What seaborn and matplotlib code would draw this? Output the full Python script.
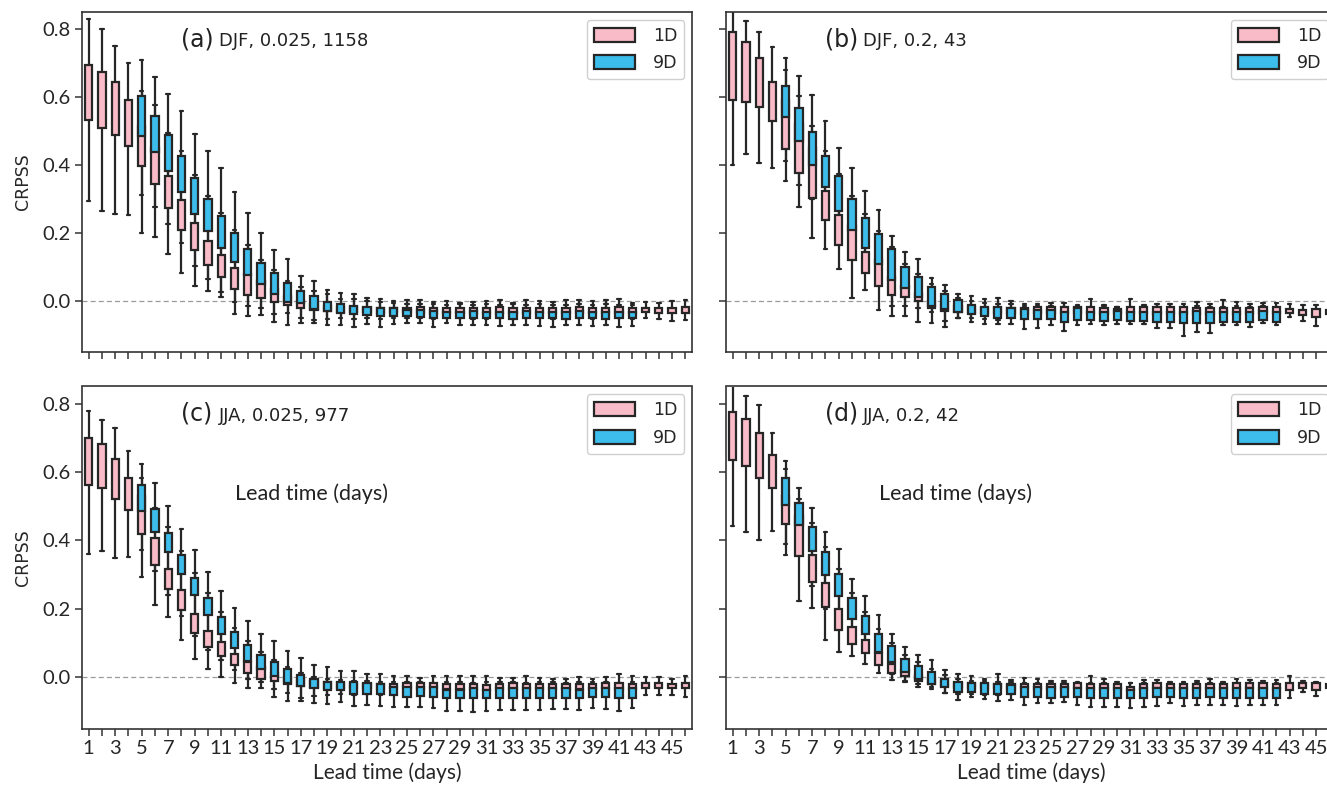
import numpy as np
import pandas as pd
import matplotlib
matplotlib.use("Agg")
import matplotlib.pyplot as plt
import seaborn as sns

# ---------------- data ----------------
LEADS = list(range(1, 47))
LEADS_9D = list(range(5, 43))
MODELS = ["1D", "9D"]
COLORS = {"1D": "#F8BBC7", "9D": "#3CBDEC"}
YTICKS = [0.0, 0.2, 0.4, 0.6, 0.8]
PANEL_TAGS = ["(a)", "(b)", "(c)", "(d)"]
PANEL_INFO = ["DJF, 0.025, 1158", "DJF, 0.2, 43", "JJA, 0.025, 977", "JJA, 0.2, 42"]

# Panel (a) 1D : whisker high, box top, box bottom, whisker low
A1_hi = [0.83, 0.80, 0.75, 0.70, 0.71, 0.66, 0.61, 0.56, 0.49, 0.44, 0.39, 0.32, 0.26, 0.20, 0.15, 0.125, 0.073, 0.06, 0.032,
         0.025, 0.02, 0.01, 0.006, 0.0, 0.003, 0.003, -0.002, 0.0, -0.007, -0.002, 0.0, 0.003, -0.005, 0.002, 0.0, -0.004, 0.002,
         0.002, 0.0, 0.003, 0.005, -0.005, -0.002, -0.005, 0.0, 0.003]
A1_q3 = [0.694, 0.674, 0.645, 0.592, 0.515, 0.45, 0.369, 0.296, 0.228, 0.176, 0.136, 0.098, 0.08, 0.058, 0.035, 0.015, 0.0, -0.01, -0.015,
         -0.018, -0.019, -0.02, -0.02, -0.02, -0.02, -0.018, -0.021, -0.02, -0.022, -0.02, -0.021, -0.019, -0.022, -0.02, -0.021, -0.022,
         -0.02, -0.019, -0.021, -0.02, -0.019, -0.021, -0.020, -0.021, -0.022, -0.019]
A1_q1 = [0.533, 0.508, 0.487, 0.456, 0.396, 0.344, 0.274, 0.208, 0.151, 0.107, 0.072, 0.034, 0.018, 0.008, -0.002, -0.012, -0.021, -0.025, -0.028,
         -0.031, -0.032, -0.033, -0.034, -0.033, -0.033, -0.034, -0.035, -0.034, -0.035, -0.034, -0.035, -0.034, -0.035, -0.034, -0.035,
         -0.035, -0.034, -0.034, -0.035, -0.034, -0.034, -0.035, -0.033, -0.034, -0.036, -0.035]
A1_lo = [0.295, 0.265, 0.256, 0.252, 0.200, 0.188, 0.137, 0.083, 0.044, 0.030, 0.013, -0.039, -0.043, -0.041, -0.063, -0.070, -0.065, -0.055, -0.052,
         -0.051, -0.054, -0.050, -0.052, -0.050, -0.049, -0.050, -0.052, -0.049, -0.051, -0.052, -0.053, -0.050, -0.052, -0.051, -0.050,
         -0.053, -0.052, -0.050, -0.052, -0.051, -0.050, -0.052, -0.051, -0.054, -0.060, -0.056]
# Panel (a) 9D (leads 5-42)
A9_hi = [0.618, 0.577, 0.493, 0.44, 0.37, 0.31, 0.26, 0.21, 0.165, 0.12, 0.09, 0.06, 0.04, 0.03, 0.02, 0.006, 0.005, 0.0, -0.003, -0.005,
         -0.008, -0.01, -0.01, -0.012, -0.01, -0.012, -0.01, -0.012, -0.01, -0.012, -0.01, -0.012, -0.011, -0.01, -0.012, -0.01, -0.011, -0.012]
A9_q3 = [0.603, 0.545, 0.488, 0.426, 0.361, 0.301, 0.249, 0.200, 0.154, 0.112, 0.081, 0.052, 0.029, 0.015, -0.002, -0.010, -0.015, -0.017, -0.020, -0.020,
         -0.026, -0.027, -0.029, -0.031, -0.031, -0.030, -0.031, -0.032, -0.031, -0.030, -0.031, -0.032, -0.031, -0.030, -0.031, -0.032, -0.031, -0.031]
A9_q1 = [0.486, 0.4375, 0.381, 0.322, 0.257, 0.205, 0.157, 0.115, 0.076, 0.049, 0.022, -0.002, -0.007, -0.024, -0.029, -0.036, -0.039, -0.041, -0.044, -0.043,
         -0.044, -0.046, -0.049, -0.049, -0.051, -0.050, -0.051, -0.050, -0.052, -0.051, -0.050, -0.051, -0.052, -0.050, -0.051, -0.052, -0.050, -0.051]
A9_lo = [0.313, 0.276, 0.226, 0.171, 0.103, 0.065, 0.026, -0.002, -0.015, -0.02, -0.039, -0.036, -0.05, -0.065, -0.07, -0.072, -0.075, -0.068, -0.075, -0.068,
         -0.065, -0.065, -0.075, -0.065, -0.070, -0.072, -0.070, -0.074, -0.072, -0.070, -0.073, -0.075, -0.072, -0.070, -0.074, -0.072, -0.075, -0.073]

# Panel (b)
B1_hi = [0.88, 0.823, 0.791, 0.747, 0.716, 0.662, 0.606, 0.530, 0.449, 0.391, 0.323, 0.267, 0.190, 0.143, 0.123, 0.068, 0.047, 0.022, 0.015,
         0.005, 0.01, 0.001, -0.01, -0.01, -0.005, -0.005, -0.012, 0.005, -0.012, -0.017, 0.005, -0.012, -0.009, -0.009, -0.01, -0.002,
         -0.009, 0.003, -0.004, -0.009, -0.007, -0.007, -0.01, -0.012, -0.012, -0.01]
B1_q3 = [0.792, 0.762, 0.716, 0.643, 0.59, 0.52, 0.45, 0.325, 0.254, 0.22, 0.143, 0.12, 0.07, 0.045, 0.02, 0.0, -0.01, -0.015, -0.018,
         -0.02, -0.02, -0.02, -0.022, -0.019, -0.017, -0.017, -0.017, -0.017, -0.021, -0.023, -0.017, -0.017, -0.019, -0.019, -0.019, -0.021,
         -0.021, -0.021, -0.021, -0.021, -0.017, -0.017, -0.024, -0.026, -0.024, -0.026]
B1_q1 = [0.591, 0.586, 0.571, 0.530, 0.447, 0.377, 0.303, 0.237, 0.164, 0.120, 0.081, 0.044, 0.018, 0.011, 0.0, -0.02, -0.028, -0.033, -0.035,
         -0.036, -0.035, -0.036, -0.037, -0.036, -0.035, -0.036, -0.035, -0.036, -0.037, -0.036, -0.035, -0.036, -0.037, -0.036, -0.038,
         -0.037, -0.038, -0.036, -0.037, -0.036, -0.035, -0.036, -0.036, -0.041, -0.046, -0.039]
B1_lo = [0.400, 0.433, 0.406, 0.391, 0.354, 0.276, 0.184, 0.152, 0.093, 0.010, 0.032, -0.026, -0.043, -0.043, -0.061, -0.065, -0.06, -0.05, -0.05,
         -0.052, -0.055, -0.05, -0.053, -0.052, -0.05, -0.054, -0.052, -0.05, -0.053, -0.052, -0.054, -0.052, -0.055, -0.053, -0.056,
         -0.054, -0.055, -0.052, -0.053, -0.054, -0.051, -0.053, -0.048, -0.06, -0.073, -0.055]
B9_hi = [0.680, 0.602, 0.514, 0.44, 0.375, 0.31, 0.255, 0.205, 0.16, 0.11, 0.08, 0.05, 0.03, 0.01, 0.0, -0.005, -0.008, -0.01, -0.015, -0.015,
         -0.016, -0.018, -0.015, -0.018, -0.016, -0.018, -0.017, -0.016, -0.018, -0.017, -0.018, -0.016, -0.017, -0.018, -0.016, -0.017, -0.016, -0.018]
B9_q3 = [0.631, 0.569, 0.498, 0.427, 0.367, 0.301, 0.245, 0.198, 0.152, 0.101, 0.071, 0.042, 0.020, 0.003, -0.012, -0.017, -0.019, -0.022, -0.024, -0.027,
         -0.027, -0.031, -0.022, -0.031, -0.031, -0.030, -0.031, -0.031, -0.032, -0.031, -0.031, -0.030, -0.031, -0.031, -0.032, -0.031, -0.030, -0.031]
B9_q1 = [0.540, 0.472, 0.400, 0.335, 0.264, 0.208, 0.157, 0.110, 0.063, 0.039, 0.013, -0.015, -0.023, -0.031, -0.039, -0.044, -0.051, -0.051, -0.054, -0.054,
         -0.054, -0.061, -0.056, -0.056, -0.059, -0.056, -0.059, -0.059, -0.061, -0.061, -0.066, -0.066, -0.066, -0.061, -0.061, -0.061, -0.056, -0.061]
B9_lo = [0.413, 0.342, 0.30, 0.25, 0.20, 0.15, 0.10, 0.06, -0.015, -0.015, -0.021, -0.033, -0.075, -0.05, -0.061, -0.068, -0.068, -0.068, -0.083, -0.078,
         -0.07, -0.088, -0.07, -0.068, -0.07, -0.068, -0.068, -0.068, -0.078, -0.078, -0.103, -0.09, -0.095, -0.07, -0.07, -0.075, -0.065, -0.07]

# Panel (c)
C1_hi = [0.778, 0.752, 0.729, 0.661, 0.622, 0.568, 0.500, 0.434, 0.373, 0.308, 0.252, 0.203, 0.163, 0.126, 0.106, 0.076, 0.057, 0.037, 0.03,
         0.018, 0.018, 0.009, 0.009, 0.003, 0.003, -0.002, 0.003, 0.003, 0.003, 0.003, 0.003, -0.002, -0.002, 0.004, -0.001, -0.004,
         -0.004, 0.001, -0.004, 0.001, 0.008, 0.003, 0.001, 0.001, -0.004, 0.004]
C1_q3 = [0.700, 0.682, 0.638, 0.582, 0.53, 0.407, 0.315, 0.254, 0.186, 0.134, 0.103, 0.069, 0.043, 0.03, 0.012, 0.0, -0.008, -0.012, -0.015,
         -0.018, -0.02, -0.02, -0.02, -0.021, -0.018, -0.018, -0.018, -0.021, -0.021, -0.021, -0.023, -0.021, -0.018, -0.021, -0.021,
         -0.021, -0.021, -0.021, -0.021, -0.018, -0.018, -0.021, -0.018, -0.018, -0.021, -0.018]
C1_q1 = [0.563, 0.554, 0.522, 0.490, 0.418, 0.327, 0.259, 0.196, 0.130, 0.089, 0.061, 0.035, 0.013, -0.004, -0.012, -0.02, -0.025, -0.028, -0.031,
         -0.032, -0.033, -0.033, -0.034, -0.033, -0.033, -0.034, -0.033, -0.035, -0.035, -0.034, -0.036, -0.035, -0.034, -0.035, -0.034,
         -0.035, -0.034, -0.035, -0.034, -0.033, -0.034, -0.034, -0.031, -0.031, -0.033, -0.033]
C1_lo = [0.361, 0.368, 0.349, 0.351, 0.293, 0.212, 0.176, 0.110, 0.054, 0.025, 0.001, -0.018, -0.033, -0.033, -0.057, -0.069, -0.06, -0.055, -0.052,
         -0.05, -0.052, -0.05, -0.051, -0.05, -0.052, -0.05, -0.053, -0.052, -0.051, -0.053, -0.052, -0.05, -0.052, -0.051, -0.05,
         -0.052, -0.051, -0.053, -0.05, -0.052, -0.053, -0.051, -0.053, -0.051, -0.053, -0.057]
C9_hi = [0.582, 0.494, 0.44, 0.37, 0.305, 0.245, 0.19, 0.145, 0.105, 0.075, 0.05, 0.03, 0.012, 0.0, -0.005, -0.008, -0.01, -0.012, -0.014, -0.015,
         -0.015, -0.014, -0.016, -0.015, -0.014, -0.016, -0.015, -0.014, -0.015, -0.016, -0.015, -0.014, -0.016, -0.015, -0.014, -0.015, -0.016, -0.015]
C9_q3 = [0.561, 0.492, 0.422, 0.356, 0.291, 0.233, 0.176, 0.132, 0.095, 0.064, 0.043, 0.024, 0.006, -0.004, -0.014, -0.014, -0.014, -0.016, -0.019, -0.028,
         -0.030, -0.030, -0.030, -0.036, -0.036, -0.033, -0.038, -0.033, -0.033, -0.033, -0.033, -0.033, -0.033, -0.036, -0.031, -0.033, -0.033, -0.033]
C9_q1 = [0.485, 0.424, 0.366, 0.303, 0.239, 0.181, 0.126, 0.084, 0.047, 0.025, 0.004, -0.018, -0.025, -0.033, -0.038, -0.038, -0.048, -0.048, -0.048, -0.052,
         -0.057, -0.055, -0.057, -0.062, -0.062, -0.062, -0.062, -0.060, -0.060, -0.062, -0.060, -0.060, -0.060, -0.062, -0.057, -0.057, -0.062, -0.060]
C9_lo = [0.373, 0.31, 0.24, 0.18, 0.12, 0.08, 0.05, 0.02, -0.005, -0.015, -0.035, -0.045, -0.07, -0.075, -0.077, -0.072, -0.084, -0.08, -0.084, -0.087,
         -0.087, -0.087, -0.09, -0.099, -0.099, -0.101, -0.099, -0.096, -0.096, -0.096, -0.096, -0.093, -0.093, -0.096, -0.091, -0.093, -0.099, -0.091]

# Panel (d)
D1_hi = [0.87, 0.821, 0.797, 0.713, 0.632, 0.553, 0.494, 0.424, 0.374, 0.288, 0.236, 0.181, 0.127, 0.089, 0.064, 0.050, 0.020, 0.008, 0.004,
         -0.006, 0.009, -0.009, -0.001, -0.006, -0.012, -0.011, -0.014, 0.004, -0.006, -0.014, -0.016, -0.009, -0.009, -0.014, -0.014,
         -0.011, -0.006, -0.014, -0.004, -0.009, -0.011, -0.007, 0.003, -0.011, -0.014, -0.01]
D1_q3 = [0.775, 0.755, 0.713, 0.651, 0.53, 0.47, 0.358, 0.275, 0.200, 0.147, 0.108, 0.07, 0.04, 0.02, 0.005, -0.005, -0.012, -0.016, -0.018,
         -0.019, -0.019, -0.019, -0.019, -0.021, -0.021, -0.021, -0.018, -0.021, -0.021, -0.021, -0.028, -0.021, -0.018, -0.021, -0.021,
         -0.021, -0.021, -0.021, -0.018, -0.018, -0.018, -0.021, -0.018, -0.018, -0.018, -0.02]
D1_q1 = [0.636, 0.619, 0.582, 0.554, 0.447, 0.354, 0.278, 0.205, 0.137, 0.098, 0.071, 0.037, 0.013, 0.004, -0.01, -0.02, -0.025, -0.03, -0.032,
         -0.033, -0.033, -0.034, -0.033, -0.034, -0.035, -0.034, -0.033, -0.035, -0.035, -0.034, -0.036, -0.034, -0.033, -0.034, -0.035,
         -0.034, -0.034, -0.035, -0.034, -0.033, -0.034, -0.034, -0.036, -0.031, -0.036, -0.033]
D1_lo = [0.442, 0.426, 0.402, 0.427, 0.358, 0.222, 0.202, 0.108, 0.074, 0.061, 0.040, 0.011, -0.007, -0.015, -0.028, -0.035, -0.045, -0.05, -0.05,
         -0.051, -0.052, -0.05, -0.053, -0.052, -0.051, -0.05, -0.052, -0.053, -0.052, -0.051, -0.053, -0.052, -0.05, -0.051, -0.052,
         -0.051, -0.05, -0.052, -0.051, -0.05, -0.052, -0.051, -0.061, -0.043, -0.055, -0.05]
D9_hi = [0.609, 0.52, 0.45, 0.38, 0.315, 0.245, 0.19, 0.14, 0.10, 0.065, 0.045, 0.025, 0.005, -0.005, -0.01, -0.012, -0.014, -0.015, -0.016, -0.017,
         -0.018, -0.017, -0.018, -0.017, -0.018, -0.019, -0.017, -0.018, -0.017, -0.018, -0.017, -0.018, -0.017, -0.018, -0.017, -0.016, -0.017, -0.018]
D9_q3 = [0.582, 0.510, 0.439, 0.366, 0.303, 0.232, 0.178, 0.126, 0.091, 0.052, 0.033, 0.014, -0.006, -0.013, -0.018, -0.018, -0.021, -0.023, -0.028, -0.028,
         -0.030, -0.028, -0.031, -0.033, -0.033, -0.033, -0.038, -0.033, -0.031, -0.031, -0.033, -0.033, -0.033, -0.033, -0.033, -0.033, -0.033, -0.033]
D9_q1 = [0.504, 0.444, 0.369, 0.298, 0.236, 0.171, 0.126, 0.074, 0.045, 0.016, -0.006, -0.020, -0.030, -0.043, -0.043, -0.048, -0.050, -0.048, -0.057, -0.057,
         -0.060, -0.057, -0.057, -0.060, -0.062, -0.062, -0.062, -0.060, -0.057, -0.057, -0.060, -0.060, -0.057, -0.060, -0.060, -0.060, -0.060, -0.060]
D9_lo = [0.390, 0.36, 0.266, 0.20, 0.15, 0.11, 0.08, 0.04, 0.01, -0.01, -0.02, -0.03, -0.045, -0.067, -0.057, -0.065, -0.069, -0.067, -0.082, -0.075,
         -0.074, -0.072, -0.080, -0.087, -0.087, -0.087, -0.089, -0.087, -0.085, -0.074, -0.085, -0.082, -0.080, -0.080, -0.085, -0.082, -0.082, -0.082]

PANELS = [
    ((A1_hi, A1_q3, A1_q1, A1_lo), (A9_hi, A9_q3, A9_q1, A9_lo)),
    ((B1_hi, B1_q3, B1_q1, B1_lo), (B9_hi, B9_q3, B9_q1, B9_lo)),
    ((C1_hi, C1_q3, C1_q1, C1_lo), (C9_hi, C9_q3, C9_q1, C9_lo)),
    ((D1_hi, D1_q3, D1_q1, D1_lo), (D9_hi, D9_q3, D9_q1, D9_lo)),
]


def make_frame(stats1, stats9):
    """Five-point samples whose 0/25/75/100 percentiles are the box values."""
    rows = []
    for model, leads, (hi, q3, q1, lo) in (("1D", LEADS, stats1), ("9D", LEADS_9D, stats9)):
        for i, lead in enumerate(leads):
            for v in (lo[i], q1[i], q1[i], q3[i], hi[i]):
                rows.append({"lead": lead, "CRPSS": v, "model": model})
    return pd.DataFrame(rows)


# ---------------- figure ----------------
sns.set_theme(style="ticks")
plt.rcParams["font.family"] = ["DejaVu Sans"]
TICKFONT = ["Lato", "DejaVu Sans"]

W, H = 1327, 786
fig = plt.figure(figsize=(W / 100, H / 100), dpi=100)

# pixel boxes: left, top, bottom
boxes = [(82, 12, 352), (726, 12, 352), (82, 386.5, 728.5), (726, 386.5, 728.5)]
AX_W = 610

for k, ((l, t, b), (s1, s9)) in enumerate(zip(boxes, PANELS)):
    ax = fig.add_axes([l / W, 1 - b / H, AX_W / W, (b - t) / H])
    df = make_frame(s1, s9)
    ax.axhline(0, color="#9a9a9a", lw=0.9, ls=(0, (4, 2.5)), zorder=1)
    sns.boxplot(data=df, x="lead", y="CRPSS", hue="model", order=LEADS, hue_order=MODELS,
                palette=COLORS, saturation=1, dodge=False, width=0.55, whis=(0, 100),
                showfliers=False, linecolor="#262626", linewidth=1.6,
                medianprops={"linewidth": 0}, ax=ax)
    # boxes drawn above whisker lines, 9D above 1D
    for p in ax.patches:
        p.set_zorder(3)

    ax.set_xlim(-0.5, 45.5)
    ax.set_ylim(-0.15, 0.85)
    ax.set_yticks(YTICKS)
    ax.set_xticks(range(len(LEADS)))
    ax.set_xticklabels([str(v) if v % 2 == 1 else "" for v in LEADS])
    ax.set_yticklabels([f"{v:.1f}" for v in YTICKS])
    ax.tick_params(axis="both", direction="out", length=5, width=1.1, color="#333333",
                   labelsize=14.5, pad=3)
    for lbl in ax.get_xticklabels() + ax.get_yticklabels():
        lbl.set_fontfamily(TICKFONT)
    for sp in ax.spines.values():
        sp.set_linewidth(1.2)
        sp.set_color("#333333")

    if k < 2:
        ax.tick_params(axis="x", labelbottom=False)
        ax.set_xlabel("")
    else:
        ax.set_xlabel("Lead time (days)", fontsize=15, family=TICKFONT, labelpad=4)
    if k % 2 == 1:
        ax.tick_params(axis="y", labelleft=False)
        ax.set_ylabel("")
    else:
        ax.set_ylabel("CRPSS", fontsize=12.5, labelpad=8)

    ax.text(0.162, 0.90, PANEL_TAGS[k], transform=ax.transAxes, fontsize=17,
            va="baseline", ha="left", color="#222222")
    ax.text(0.225, 0.90, PANEL_INFO[k], transform=ax.transAxes, fontsize=13,
            va="baseline", ha="left", color="#222222")
    if k >= 2:
        ax.text(0.377, 0.686, "Lead time (days)", transform=ax.transAxes, fontsize=15.5,
                family=TICKFONT, ha="center", va="center", color="#222222")

    sns.move_legend(ax, "upper right", title=None, frameon=True, fontsize=12.5,
                    handlelength=2.4, handleheight=0.85, borderaxespad=0.45,
                    fancybox=True, framealpha=1.0, edgecolor="#d0d0d0",
                    labelspacing=0.55, handletextpad=1.0)

fig.savefig("out.png", dpi=100)
